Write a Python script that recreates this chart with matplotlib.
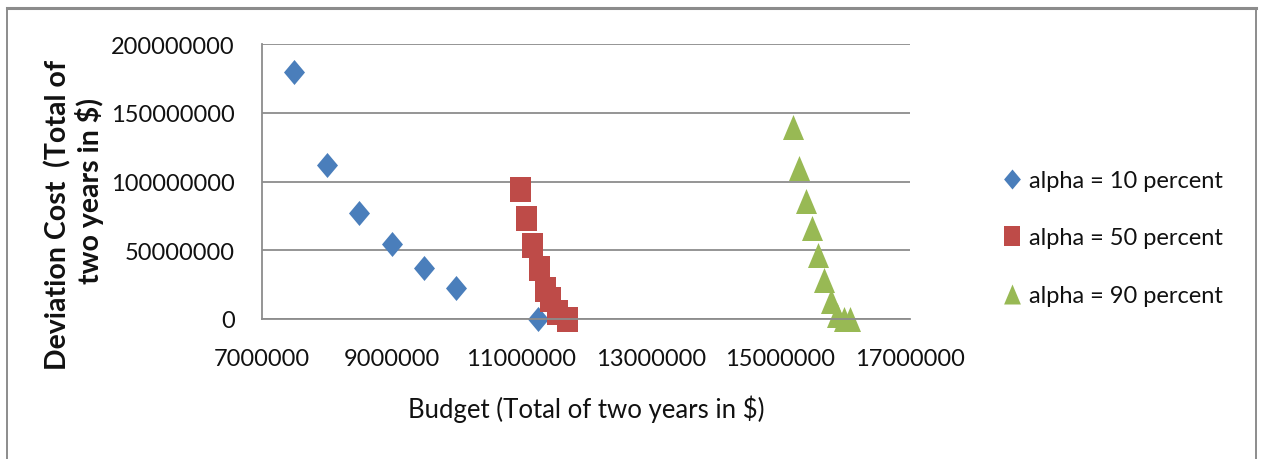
import numpy as np
import matplotlib.pyplot as plt
from matplotlib.lines import Line2D
from matplotlib.path import Path

plt.rcParams['font.family'] = ['Lato', 'DejaVu Sans']

# budget (total of two years, $) and deviation cost for each alpha level
budget_10 = [7500000, 8000000, 8500000, 9000000, 9500000, 10000000, 11260000]
cost_10 = [180000000, 112000000, 77000000, 54500000, 37000000, 22500000, 0]

budget_50 = [10980000, 11070000, 11170000, 11270000, 11370000, 11450000, 11550000, 11700000]
cost_50 = [94500000, 73500000, 54000000, 37000000, 22000000, 14500000, 5000000, 0]

budget_90 = [15190000, 15290000, 15390000, 15480000, 15580000, 15680000, 15780000,
             15880000, 15980000, 16070000]
cost_90 = [140000000, 110000000, 86000000, 66000000, 46500000, 28500000, 13000000,
           3000000, 0, 0]

labels = ['alpha = 10 percent', 'alpha = 50 percent', 'alpha = 90 percent']
colors = ['#4A7EBB', '#BE4B48', '#98B954']

# slightly tall markers, like the spreadsheet ones
w = 0.84
diamond = Path([(0, 1), (w, 0), (0, -1), (-w, 0), (0, 1)])
square = Path([(-w, -1), (w, -1), (w, 1), (-w, 1), (-w, -1)])
triangle = Path([(0, 1), (w, -1), (-w, -1), (0, 1)])

fig = plt.figure(figsize=(12.61, 4.60), dpi=100)
ax = fig.add_axes([262 / 1261, 140 / 460, 648 / 1261, 275 / 460])

ax.plot(budget_10, cost_10, linestyle='none', marker=diamond, ms=18,
        mew=0, color=colors[0], label=labels[0], clip_on=False)
ax.plot(budget_50, cost_50, linestyle='none', marker=square, ms=18,
        mew=0, color=colors[1], label=labels[1], clip_on=False)
ax.plot(budget_90, cost_90, linestyle='none', marker=triangle, ms=18,
        mew=0, color=colors[2], label=labels[2], clip_on=False)

ax.set_xlim(7000000, 17000000)
ax.set_ylim(0, 200000000)
ax.set_xticks(np.arange(7000000, 17000001, 2000000))
ax.set_yticks(np.arange(0, 200000001, 50000000))
ax.ticklabel_format(style='plain', useOffset=False)
ax.tick_params(length=0, labelsize=17, colors='#111111')
ax.tick_params(axis='y', pad=19.5)
ax.tick_params(axis='x', pad=21)

ax.grid(axis='y', color='#8C8C8C', linewidth=1.3)
ax.set_axisbelow(True)
for side in ['top', 'right']:
    ax.spines[side].set_visible(False)
ax.spines['left'].set_color('#8C8C8C')
ax.spines['bottom'].set_color('#8C8C8C')
ax.spines['left'].set_linewidth(1.3)
ax.spines['bottom'].set_linewidth(1.3)

ax.set_xlabel('Budget (Total of two years in $)', fontsize=18.5, color='#111111',
              labelpad=18)

# two-line rotated axis title
fig.text(58 / 1261, 1 - 215 / 460, 'Deviation Cost  (Total of', rotation=90,
         ha='center', va='center', fontsize=20.5, fontweight='bold', color='#111111')
fig.text(90 / 1261, 1 - 191 / 460, 'two years in $)', rotation=90,
         ha='center', va='center', fontsize=20.5, fontweight='bold', color='#111111')

leg = ax.legend(loc='center left', bbox_to_anchor=(1.125, 0.295), frameon=False,
                fontsize=17, markerscale=0.8, labelspacing=1.55,
                handlelength=0.8, handletextpad=0.3, borderpad=0)
for t in leg.get_texts():
    t.set_color('#111111')

# outer frame of the chart
frame = dict(color='#8C8C8C', transform=fig.transFigure)
fig.add_artist(Line2D([7 / 1261, 1256 / 1261], [1 - 9 / 460, 1 - 9 / 460],
                      linewidth=2.2, **frame))
fig.add_artist(Line2D([7 / 1261, 7 / 1261], [0, 1 - 9 / 460], linewidth=1.4, **frame))
fig.add_artist(Line2D([1256 / 1261, 1256 / 1261], [0, 1 - 9 / 460], linewidth=1.4,
                      **frame))

fig.savefig('out.png', dpi=100)
